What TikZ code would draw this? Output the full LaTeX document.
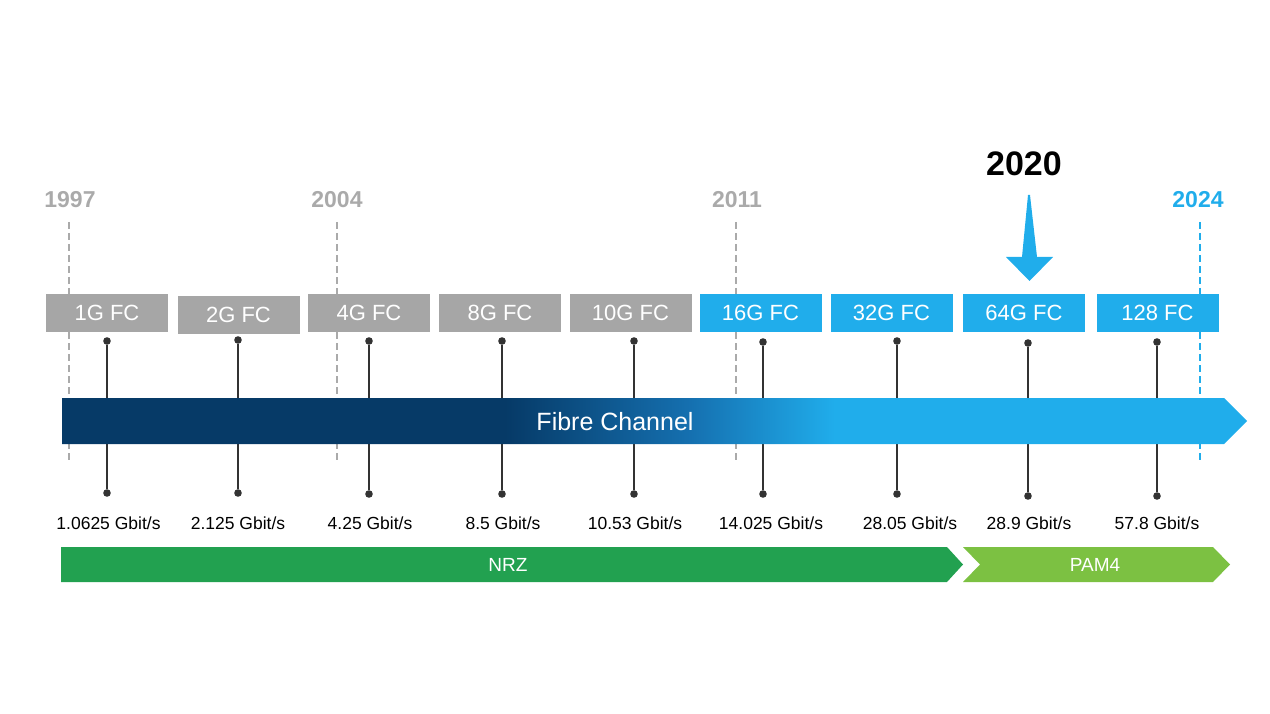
\documentclass[tikz,border=0pt]{standalone}
\usepackage{fontspec}
\setmainfont{Liberation Sans}
\definecolor{boxgray}{HTML}{A6A6A6}
\definecolor{yeargray}{HTML}{AAAAAA}
\definecolor{fcblue}{HTML}{20ADEB}
\definecolor{fcnavy}{HTML}{063A67}
\definecolor{fcmid}{HTML}{1570B0}
\definecolor{nrzgreen}{HTML}{22A150}
\definecolor{pamgreen}{HTML}{7CC142}
\definecolor{stemgray}{HTML}{333333}
\pgfdeclarehorizontalshading{fcshade}{100bp}{color(0bp)=(fcnavy); color(43.7bp)=(fcnavy); color(51.5bp)=(fcmid); color(57.6bp)=(fcblue); color(100bp)=(fcblue)}
\begin{document}
\begin{tikzpicture}[x=1pt,y=-1pt,
  fcbox/.style={minimum width=122pt,minimum height=38pt,inner sep=0pt,text=white,font=\fontsize{22}{26}\selectfont},
  graybox/.style={fcbox,fill=boxgray},
  bluebox/.style={fcbox,fill=fcblue},
  yearlbl/.style={font=\fontsize{23}{27}\selectfont\bfseries,anchor=base,inner sep=0pt},
  ratelbl/.style={font=\fontsize{17.5}{21}\selectfont,anchor=base,inner sep=0pt},
  dot/.style={circle,fill=stemgray,minimum size=7.6pt,inner sep=0pt},
  stem/.style={draw=stemgray,line width=1.8pt},
  yeardash/.style={line width=2pt,dash pattern=on 7pt off 4pt},
  bartext/.style={text=white,anchor=base,inner sep=0pt}
]
\useasboundingbox (0,0) rectangle (1270,714);

% year labels
\node[yearlbl,text=yeargray] (y1997) at (70,208) {1997};
\node[yearlbl,text=yeargray] (y2004) at (337,208) {2004};
\node[yearlbl,text=yeargray] (y2011) at (737,208) {2011};
\node[yearlbl,text=fcblue] (y2024) at (1198,208) {2024};
\node[font=\fontsize{34}{39}\selectfont\bfseries,anchor=base,inner sep=0pt] (y2020) at (1024,176) {2020};

% dashed year lines
\coordinate (d1t) at (69,222); \coordinate (d1b) at (69,463);
\coordinate (d2t) at (337,222); \coordinate (d2b) at (337,463);
\coordinate (d3t) at (736,222); \coordinate (d3b) at (736,463);
\coordinate (d4t) at (1200,222); \coordinate (d4b) at (1200,463);
\draw[yeardash,draw=yeargray] (d1t) -- (d1b);
\draw[yeardash,draw=yeargray] (d2t) -- (d2b);
\draw[yeardash,draw=yeargray] (d3t) -- (d3b);
\draw[yeardash,draw=fcblue] (d4t) -- (d4b);

% 2020 arrow
\fill[fcblue] (1028,195) -- (1030,195) -- (1037,257) -- (1053,257) -- (1029.5,281) -- (1006,257) -- (1022,257) -- cycle;

% stems with dots
\foreach \i/\x/\yt/\yb in {1/107/341/493, 2/238/340/493, 3/369/341/494, 4/502/341/494, 5/634/341/494, 6/763/342/494, 7/897/341/494, 8/1028/343/496, 9/1157/342/496}{
  \node[dot] (st\i) at (\x,\yt) {};
  \node[dot] (sb\i) at (\x,\yb) {};
  \draw[stem] (st\i) -- (sb\i);
}

% generation boxes
\node[graybox] (g1) at (107,313) {1G FC};
\node[graybox] (g2) at (238.5,315) {2G FC};
\node[graybox] (g4) at (369,313) {4G FC};
\node[graybox] (g8) at (500,313) {8G FC};
\node[graybox] (g10) at (630.5,313) {10G FC};
\node[bluebox] (g16) at (760.5,313) {16G FC};
\node[bluebox] (g32) at (891.5,313) {32G FC};
\node[bluebox] (g64) at (1024,313) {64G FC};
\node[bluebox] (g128) at (1157.5,313) {128 FC};

% Fibre Channel bar
\shade[shading=fcshade] (62,398) -- (1224,398) -- (1247,421) -- (1224,444) -- (62,444) -- cycle;
\node[bartext,font=\fontsize{25}{30}\selectfont] (fc) at (615,430) {Fibre Channel};

% rate labels
\node[ratelbl] (r1) at (108.5,529) {1.0625 Gbit/s};
\node[ratelbl] (r2) at (238,529) {2.125 Gbit/s};
\node[ratelbl] (r3) at (370,529) {4.25 Gbit/s};
\node[ratelbl] (r4) at (503,529) {8.5 Gbit/s};
\node[ratelbl] (r5) at (635,529) {10.53 Gbit/s};
\node[ratelbl] (r6) at (771,529) {14.025 Gbit/s};
\node[ratelbl] (r7) at (910,529) {28.05 Gbit/s};
\node[ratelbl] (r8) at (1029,529) {28.9 Gbit/s};
\node[ratelbl] (r9) at (1157,529) {57.8 Gbit/s};

% modulation bars
\fill[nrzgreen] (61,547) -- (947,547) -- (963,564.5) -- (947,582) -- (61,582) -- cycle;
\fill[pamgreen] (963,547) -- (1213,547) -- (1230,564.5) -- (1213,582) -- (963,582) -- (980,564.5) -- cycle;
\node[bartext,font=\fontsize{19}{23}\selectfont] (nrz) at (508,571) {NRZ};
\node[bartext,font=\fontsize{19}{23}\selectfont] (pam) at (1095,571) {PAM4};
\end{tikzpicture}
\end{document}
